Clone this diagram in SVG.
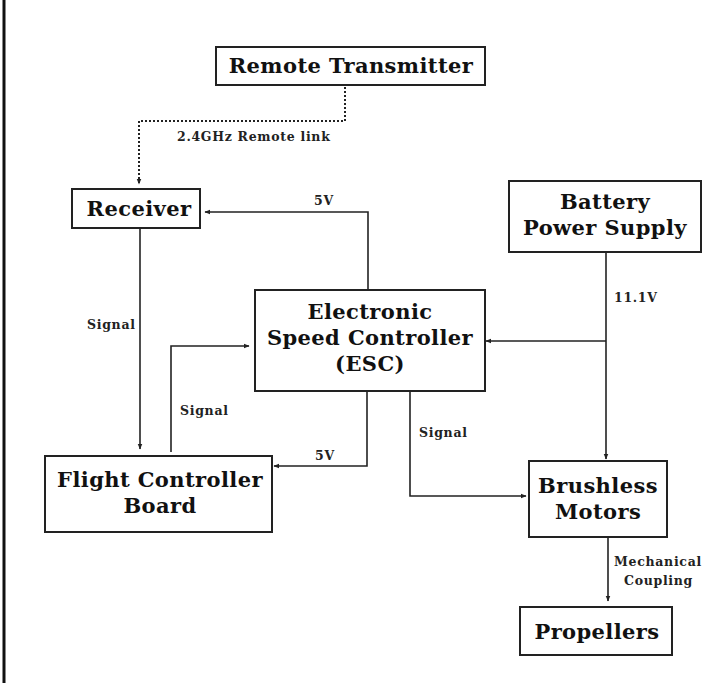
<svg xmlns="http://www.w3.org/2000/svg" width="704" height="683" viewBox="0 0 704 683">
<style>
.box{fill:#fff;stroke:#222;stroke-width:2}
.t{font-family:"DejaVu Serif","Liberation Serif",serif;font-weight:bold;font-size:21px;letter-spacing:0.4px;fill:#111;text-anchor:middle}
.l{font-family:"DejaVu Serif","Liberation Serif",serif;font-weight:bold;font-size:12.5px;letter-spacing:0.7px;fill:#222}
.c{fill:none;stroke:#222;stroke-width:1.6}
.d{fill:none;stroke:#222;stroke-width:2;stroke-dasharray:2 2}
</style>
<defs>
<marker id="a" viewBox="0 0 10 10" refX="9" refY="5" markerWidth="6" markerHeight="6" orient="auto" markerUnits="userSpaceOnUse">
<path d="M0,1 L10,5 L0,9 z" fill="#222"/>
</marker>
</defs>
<rect x="0" y="0" width="704" height="683" fill="#fff"/>
<line x1="4" y1="0" x2="4" y2="683" stroke="#111" stroke-width="3"/>
<g id="connectors">
<path class="d" d="M345,87 V121 H139 V184" marker-end="url(#a)"/>
<path class="c" d="M368,290 V212 H205" marker-end="url(#a)"/>
<path class="c" d="M606,252 V459" marker-end="url(#a)"/>
<path class="c" d="M606,341 H486" marker-end="url(#a)"/>
<path class="c" d="M140,228 V449" marker-end="url(#a)"/>
<path class="c" d="M171,452 V346 H249" marker-end="url(#a)"/>
<path class="c" d="M367,391 V466 H274" marker-end="url(#a)"/>
<path class="c" d="M410,391 V496 H526" marker-end="url(#a)"/>
<path class="c" d="M608,537 V601" marker-end="url(#a)"/>
<text class="l" x="177" y="141">2.4GHz Remote link</text>
<text class="l" x="314" y="205">5V</text>
<text class="l" x="614" y="302">11.1V</text>
<text class="l" x="87" y="329">Signal</text>
<text class="l" x="180" y="415">Signal</text>
<text class="l" x="315" y="460">5V</text>
<text class="l" x="419" y="437">Signal</text>
<text class="l" x="614" y="566">Mechanical</text>
<text class="l" x="624" y="585">Coupling</text>
</g>
<g id="remote"><rect class="box" x="216" y="47" width="269" height="38"/><text class="t" x="351" y="73">Remote Transmitter</text></g>
<g id="receiver"><rect class="box" x="72" y="189" width="128" height="39"/><text class="t" x="139" y="216">Receiver</text></g>
<g id="battery"><rect class="box" x="509" y="181" width="192" height="71"/><text class="t" x="605" y="209">Battery</text><text class="t" x="605" y="235">Power Supply</text></g>
<g id="esc"><rect class="box" x="255" y="290" width="230" height="101"/><text class="t" x="370" y="319">Electronic</text><text class="t" x="370" y="345">Speed Controller</text><text class="t" x="370" y="371">(ESC)</text></g>
<g id="fcb"><rect class="box" x="45" y="456" width="227" height="76"/><text class="t" x="160" y="487">Flight Controller</text><text class="t" x="160" y="513">Board</text></g>
<g id="motors"><rect class="box" x="529" y="461" width="138" height="76"/><text class="t" x="598" y="493">Brushless</text><text class="t" x="598" y="519">Motors</text></g>
<g id="propellers"><rect class="box" x="520" y="607" width="152" height="48"/><text class="t" x="597" y="639">Propellers</text></g>
</svg>
